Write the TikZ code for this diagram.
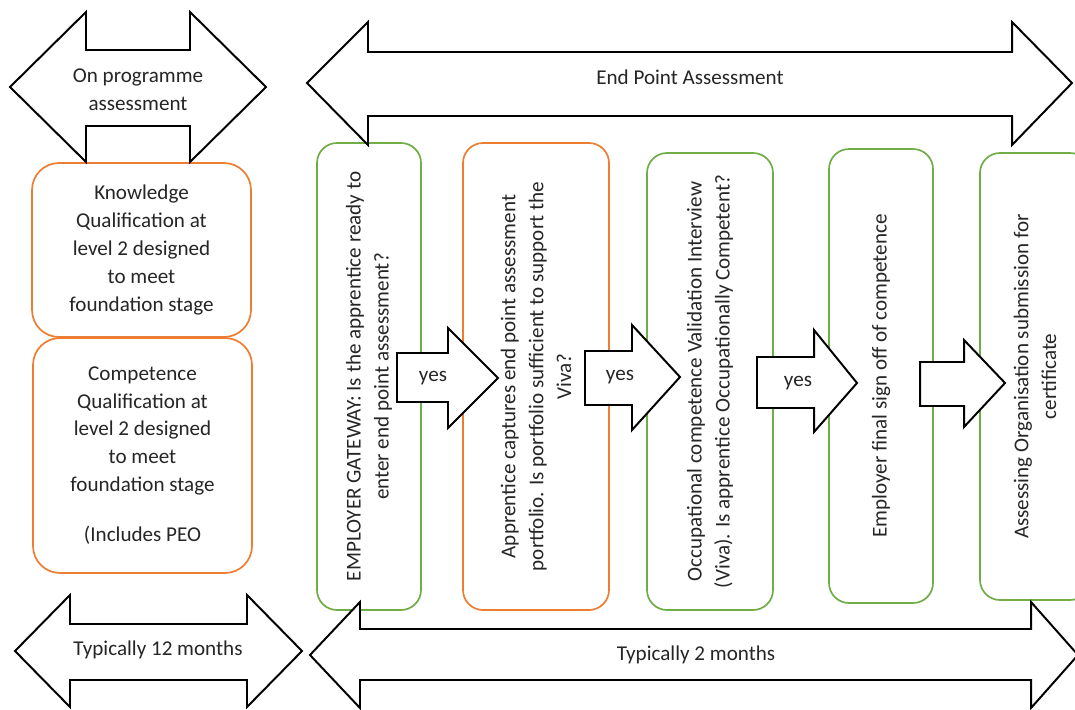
\documentclass[tikz,border=0pt]{standalone}
\usepackage{fontspec}
\setmainfont{Carlito}
\definecolor{boxgreen}{RGB}{112,173,71}
\definecolor{boxorange}{RGB}{237,125,49}
\newlength\pxl
\setlength\pxl{0.025cm}

\begin{document}
\begin{tikzpicture}[x=0.025cm, y=-0.025cm,
  every node/.style={font=\fontsize{15}{19.8}\selectfont, text=black!85, align=center},
  blockarrow/.style={draw=black, line width=1.4pt, fill=white, line join=miter},
  greenbox/.style={draw=boxgreen, line width=1.2pt, fill=white, rounded corners=20\pxl, inner sep=0pt},
  orangebox/.style={draw=boxorange, line width=1.2pt, fill=white, rounded corners=20\pxl, inner sep=0pt}]
\useasboundingbox (0,0) rectangle (1075,709);

% on programme boxes
\node[orangebox, rounded corners=27\pxl, minimum width=219\pxl, minimum height=174\pxl] (know) at (141.5,250)
  {Knowledge\\Qualification at\\level 2 designed\\to meet\\foundation stage};
\node[orangebox, rounded corners=27\pxl, minimum width=219\pxl, minimum height=235\pxl] (comp) at (142.5,455.5)
  {Competence\\Qualification at\\level 2 designed\\to meet\\foundation stage\\[22\pxl](Includes PEO};

% end point boxes
\node[greenbox, rotate=90, minimum width=467\pxl, minimum height=104\pxl] (gate) at (369,376.5)
  {EMPLOYER GATEWAY: Is the apprentice ready to\\enter end point assessment?};
\node[orangebox, rotate=90, minimum width=467\pxl, minimum height=146\pxl] (port) at (536,376.5)
  {Apprentice captures end point assessment\\portfolio. Is portfolio sufficient to support the\\Viva?};
\node[greenbox, rotate=90, minimum width=457\pxl, minimum height=126\pxl] (viva) at (710,381.5)
  {Occupational competence Validation Interview\\(Viva). Is apprentice Occupationally Competent?};
\node[greenbox, rotate=90, minimum width=454\pxl, minimum height=104\pxl] (sign) at (881,376)
  {Employer final sign off of competence};
\node[greenbox, rotate=90, minimum width=447\pxl, minimum height=110\pxl] (cert) at (1035,376.5)
  {Assessing Organisation submission for\\certificate};

% block arrows between the boxes
\draw[blockarrow] (397,353) -- (448,353) -- (448,328) -- (498,378) -- (448,428) -- (448,402) -- (397,402) -- cycle;
\draw[blockarrow] (585,351) -- (632,351) -- (632,325) -- (680,377) -- (632,430) -- (632,405) -- (585,405) -- cycle;
\draw[blockarrow] (757,357) -- (814,357) -- (814,330) -- (857,383) -- (814,432) -- (814,408) -- (757,408) -- cycle;
\draw[blockarrow] (920,362) -- (964,362) -- (964,340) -- (1005,383) -- (964,427) -- (964,406) -- (920,406) -- cycle;
\node (yes1) at (433,378) {yes};
\node (yes2) at (620,377) {yes};
\node (yes3) at (798,383) {yes};

% double arrows
\draw[blockarrow] (10,87) -- (86,12) -- (86,50) -- (190,50) -- (190,12) -- (266,87)
  -- (190,162) -- (190,126) -- (86,126) -- (86,162) -- cycle;
\draw[blockarrow] (307,83) -- (368,22) -- (368,52) -- (1012,52) -- (1012,22) -- (1072,83)
  -- (1012,145) -- (1012,116) -- (368,116) -- (368,145) -- cycle;
\draw[blockarrow] (15,651) -- (70,595) -- (70,624) -- (247,624) -- (247,595) -- (302,651)
  -- (247,707) -- (247,680) -- (70,680) -- (70,707) -- cycle;
\draw[blockarrow] (310,655) -- (360,602) -- (360,629) -- (1031,629) -- (1031,602) -- (1078,655)
  -- (1031,708) -- (1031,680) -- (360,680) -- (360,708) -- cycle;
\node (onprog) at (138,90) {On programme\\assessment};
\node (epa) at (690,77) {End Point Assessment};
\node (twelve) at (158,650) {Typically 12 months};
\node (two) at (696,655) {Typically 2 months};
\end{tikzpicture}
\end{document}
